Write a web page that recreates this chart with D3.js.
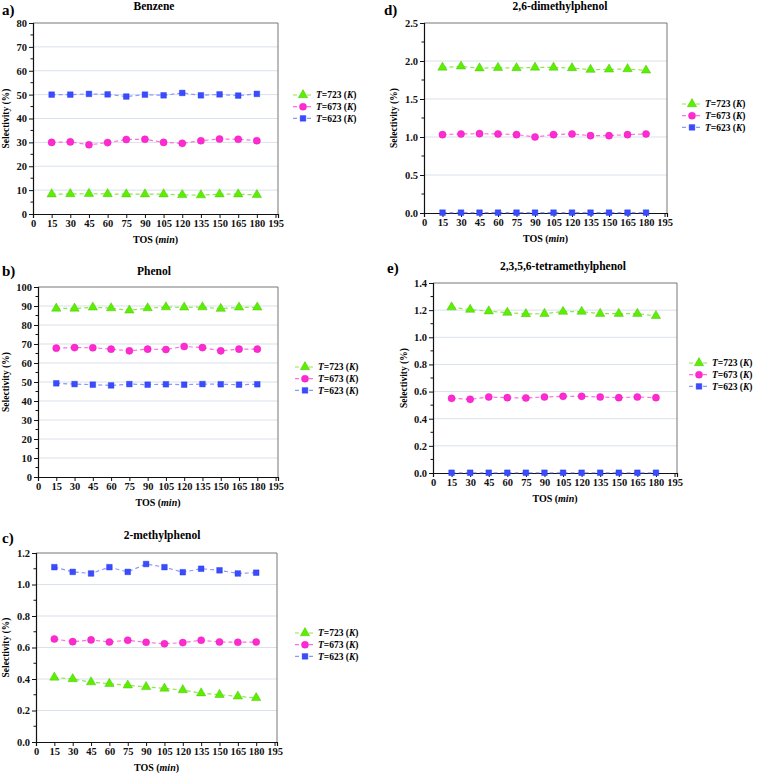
<!DOCTYPE html>
<html><head><meta charset="utf-8">
<script src="https://cdn.jsdelivr.net/npm/d3@7"></script>
<style>
body{margin:0;background:#fff}
</style>
</head><body><svg id="chart" width="757" height="775" font-family="Liberation Serif" font-weight="bold"></svg>
<script>
// ---------- data ----------
const tos = [15,30,45,60,75,90,105,120,135,150,165,180];
const xTicks = [0,15,30,45,60,75,90,105,120,135,150,165,180,195];
const seriesTemps = ["723","673","623"];

const benzene723 = [8.3,8.4,8.5,8.4,8.3,8.3,8.3,8.0,7.9,8.3,8.3,8.0];
const benzene673 = [30.0,30.2,29.0,29.9,31.2,31.3,30.0,29.6,30.7,31.4,31.3,30.7];
const benzene623 = [50.0,50.0,50.3,50.1,49.2,50.0,49.7,50.7,49.7,50.1,49.6,50.3];

const phenol723 = [88.7,88.7,89.3,88.9,87.7,88.9,89.4,89.3,89.4,88.6,89.3,89.3];
const phenol673 = [67.8,68.1,68.0,67.3,66.4,67.3,67.1,68.7,68.1,66.4,67.3,67.3];
const phenol623 = [49.3,48.9,48.6,48.2,48.9,48.6,48.8,48.6,48.9,48.8,48.6,48.8];

const methyl723 = [0.41,0.40,0.38,0.37,0.36,0.35,0.34,0.33,0.31,0.30,0.29,0.28];
const methyl673 = [0.654,0.637,0.648,0.635,0.646,0.633,0.624,0.631,0.646,0.635,0.633,0.635];
const methyl623 = [1.11,1.08,1.07,1.11,1.08,1.13,1.11,1.078,1.10,1.09,1.07,1.075];

const dimethyl723 = [1.915,1.93,1.905,1.912,1.908,1.915,1.915,1.908,1.886,1.89,1.895,1.877];
const dimethyl673 = [1.031,1.04,1.044,1.04,1.031,1.0,1.031,1.04,1.018,1.018,1.031,1.04];
const dimethyl623 = [0.005,0.005,0.005,0.005,0.005,0.005,0.005,0.005,0.005,0.005,0.005,0.005];

const tetra723 = [1.222,1.204,1.192,1.182,1.172,1.174,1.189,1.189,1.174,1.174,1.174,1.158];
const tetra673 = [0.55,0.543,0.56,0.555,0.553,0.56,0.565,0.565,0.56,0.555,0.56,0.555];
const tetra623 = [0.002,0.002,0.002,0.002,0.002,0.002,0.002,0.002,0.002,0.002,0.002,0.002];

const yTicksA = [0,10,20,30,40,50,60,70,80];
const yTicksB = [0,10,20,30,40,50,60,70,80,90,100];
const yTicksC = [0.0,0.2,0.4,0.6,0.8,1.0,1.2];
const yTicksD = [0.0,0.5,1.0,1.5,2.0,2.5];
const yTicksE = [0.0,0.2,0.4,0.6,0.8,1.0,1.2,1.4];

const panelTags = ["a)","b)","c)","d)","e)"];
const panelTitles = ["Benzene","Phenol","2-methylphenol","2,6-dimethylphenol","2,3,5,6-tetramethylphenol"];

// ---------- layout / style ----------
const FONT = "Liberation Serif, Times New Roman, serif";
const colors = [
  {fill:"#5cf000", stroke:"#3cb400", line:"#8ee84a"},
  {fill:"#ff2ad0", stroke:"#e010b8", line:"#ff6ee0"},
  {fill:"#3a4cff", stroke:"#2233dd", line:"#8a98ff"}
];
const shapes = [d3.symbolTriangle, d3.symbolCircle, d3.symbolSquare];
const shapeSize = [38, 40, 32];

const layout = [
  {box:[33,23,278,214],  fmt:d3.format("d"),   ylx:6,   tag:[2,15],   title:[154,10],  leg:[293,95]},
  {box:[38,287,278,477], fmt:d3.format("d"),   ylx:6,   tag:[2,276],  title:[154,275], leg:[295,367]},
  {box:[36,553,277,742], fmt:d3.format(".1f"), ylx:6,   tag:[2,543],  title:[162,539], leg:[295,633]},
  {box:[424,23,667,213], fmt:d3.format(".1f"), ylx:394, tag:[384,15], title:[560,10],  leg:[682,104]},
  {box:[433,283,677,473],fmt:d3.format(".1f"), ylx:404, tag:[387,273],title:[563,270], leg:[689,363]}
];

const panelSeries = [
  [benzene723,benzene673,benzene623],
  [phenol723,phenol673,phenol623],
  [methyl723,methyl673,methyl623],
  [dimethyl723,dimethyl673,dimethyl623],
  [tetra723,tetra673,tetra623]
];
const panelYTicks = [yTicksA,yTicksB,yTicksC,yTicksD,yTicksE];

const svg = d3.select("#chart");

panelSeries.forEach((series, pi) => {
  const L = layout[pi];
  const [l,t,r,b] = L.box;
  const yt = panelYTicks[pi];
  const yMax = yt[yt.length-1];
  const step = yt[1]-yt[0];
  const x = d3.scaleLinear().domain([0,197]).range([l,r]);
  const y = d3.scaleLinear().domain([0,yMax]).range([b,t]);
  const g = svg.append("g");

  // gridlines
  g.selectAll(".grid").data(yt.filter(v=>v>0 && v<yMax)).enter().append("line")
    .attr("x1",l).attr("x2",r).attr("y1",d=>y(d)).attr("y2",d=>y(d))
    .attr("stroke","#d9e1ea").attr("stroke-width",1);

  // frame top/right
  g.append("path").attr("d",`M${l},${t}H${r}V${b}`).attr("fill","none").attr("stroke","#777").attr("stroke-width",1);

  // axes
  const yAxis = d3.axisLeft(y).tickValues(yt).tickFormat(L.fmt).tickSize(4).tickPadding(2);
  const ga = g.append("g").attr("transform",`translate(${l},0)`).call(yAxis);
  const minors = d3.range(0,yt.length-1).map(i=>yt[i]+step/2);
  ga.selectAll(".minor").data(minors).enter().append("line").attr("class","minor")
    .attr("x1",0).attr("x2",-2.5).attr("y1",d=>y(d)).attr("y2",d=>y(d)).attr("stroke","#111");
  const xAxis = d3.axisBottom(x).tickValues(xTicks).tickFormat(d3.format("d")).tickSize(4).tickPadding(2);
  const gx = g.append("g").attr("transform",`translate(0,${b})`).call(xAxis);
  [ga,gx].forEach(a=>{
    a.attr("font-family",FONT).attr("font-size",10);
    a.select(".domain").attr("stroke","#111").attr("stroke-width",1.2);
    a.selectAll(".tick line").attr("stroke","#111");
    a.selectAll("text").attr("font-size",10.5).attr("font-weight","bold").attr("fill","#111");
  });

  // labels
  g.append("text").attr("x",L.tag[0]).attr("y",L.tag[1]).attr("font-size",15).text(panelTags[pi]);
  g.append("text").attr("x",L.title[0]).attr("y",L.title[1]).attr("text-anchor","middle").attr("font-size",11.5).text(panelTitles[pi]);
  const xl = g.append("text").attr("x",(l+r)/2).attr("y",b+29).attr("text-anchor","middle").attr("font-size",10);
  xl.append("tspan").text("TOS (");
  xl.append("tspan").attr("font-style","italic").text("min");
  xl.append("tspan").text(")");
  g.append("text").attr("transform",`translate(${L.ylx},${(t+b)/2}) rotate(-90)`).attr("text-anchor","middle")
    .attr("dy","0.35em").attr("font-size",9.5).text("Selectivity (%)");

  // series
  series.forEach((vals, si) => {
    const c = colors[si];
    const pts = tos.map((tt,i)=>[x(tt), y(vals[i])]);
    g.append("path").attr("d", d3.line()(pts)).attr("fill","none")
      .attr("stroke",c.line).attr("stroke-width",1.2).attr("stroke-dasharray","4,3");
    g.selectAll(null).data(pts).enter().append("path")
      .attr("transform",d=>`translate(${d[0]},${d[1]})`)
      .attr("d", d3.symbol().type(shapes[si]).size(shapeSize[si])())
      .attr("fill",c.fill).attr("stroke",c.stroke).attr("stroke-width",0.4);
  });

  // legend
  seriesTemps.forEach((tp, si) => {
    const c = colors[si];
    const lx = L.leg[0], ly = L.leg[1] + si*11.7;
    g.append("line").attr("x1",lx).attr("x2",lx+19).attr("y1",ly).attr("y2",ly)
      .attr("stroke",c.line).attr("stroke-width",1.2).attr("stroke-dasharray","4,3");
    g.append("path").attr("transform",`translate(${lx+10},${ly})`)
      .attr("d", d3.symbol().type(shapes[si]).size(shapeSize[si])())
      .attr("fill",c.fill).attr("stroke",c.stroke).attr("stroke-width",0.4);
    const tx = g.append("text").attr("x",lx+23).attr("y",ly).attr("dy","0.35em").attr("font-size",9.5);
    tx.append("tspan").attr("font-style","italic").text("T");
    tx.append("tspan").text("=" + tp + " (");
    tx.append("tspan").attr("font-style","italic").text("K");
    tx.append("tspan").text(")");
  });
});

svg.selectAll("text").attr("font-family",FONT).attr("font-weight","bold").style("font-family",FONT);
</script>
</body></html>
